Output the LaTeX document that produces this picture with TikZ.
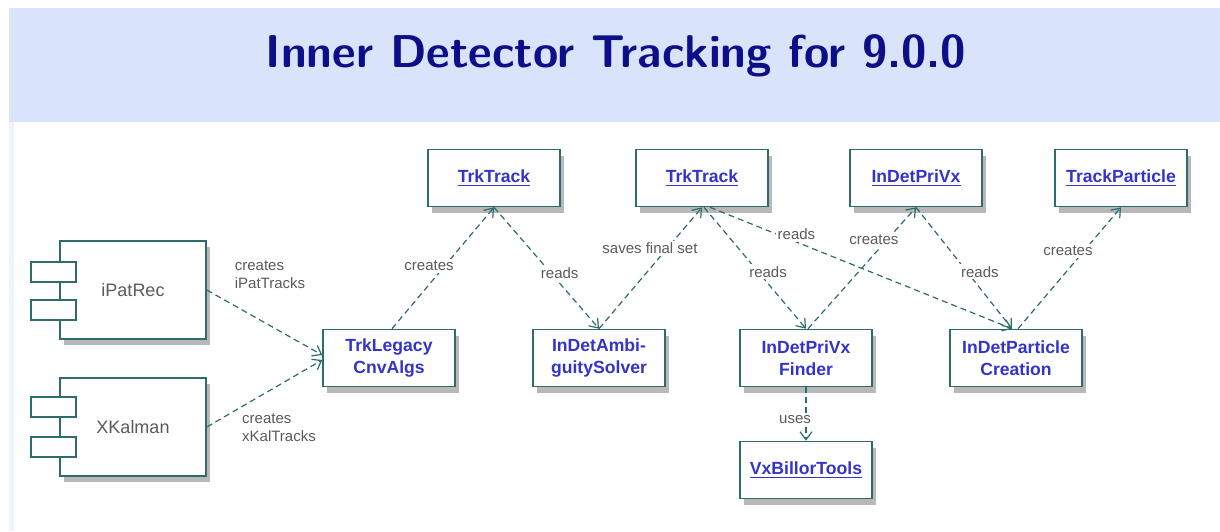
\documentclass[tikz,border=0pt]{standalone}
\usepackage{fontspec}
\setmainfont{Liberation Sans}
\usetikzlibrary{arrows.meta, shadows}

\definecolor{banner}{HTML}{D9E4FB}
\definecolor{sidestrip}{HTML}{EEF3FD}
\definecolor{titleblue}{HTML}{0E0E88}
\definecolor{linkblue}{HTML}{3434C8}
\definecolor{edge}{HTML}{2E6B6C}
\definecolor{note}{HTML}{5A5A5A}

\newcommand{\lnk}[1]{\underline{#1}}

\tikzset{
  boxshadow/.style={drop shadow={shadow xshift=2pt, shadow yshift=-3pt, fill=black!55, opacity=.5}},
  cls/.style={draw=edge, line width=0.8pt, fill=white, boxshadow,
    minimum width=66pt, minimum height=28.5pt, align=center, inner sep=2pt,
    font=\fontsize{8.8}{11}\selectfont\bfseries, text=linkblue},
  comp/.style={draw=edge, line width=0.8pt, fill=white, boxshadow,
    minimum width=73pt, minimum height=49pt,
    font=\fontsize{9}{11}\selectfont, text=note},
  tab/.style={draw=edge, line width=0.8pt, fill=white,
    minimum width=22.5pt, minimum height=10pt, inner sep=0pt},
  dep/.style={draw=edge, line width=0.6pt, dash pattern=on 3pt off 2pt,
    -{Straight Barb[length=4pt, width=6pt]}},
  lbl/.style={font=\fontsize{7.5}{9}\selectfont, text=note, inner sep=1pt, align=left},
}

\begin{document}
\begin{tikzpicture}[x=0.5pt, y=-0.5pt]
    \useasboundingbox (0, 0) rectangle (1220, 531);
    % slide background
    \fill[white] (0, 0) rectangle (1220, 531);
    \fill[sidestrip] (9, 122) rectangle (14, 531);
    \fill[banner] (9, 8) rectangle (1220, 122);
    \node[text=titleblue, font=\sffamily\bfseries\fontsize{23}{28}\selectfont] (title) at (616, 56) {Inner Detector Tracking for 9.0.0};

    % components on the left
    \node[comp] (ipat) at (133, 290) {iPatRec};
    \node[tab] (ipattop) at ([xshift=-2.75pt, yshift=9pt]ipat.west) {};
    \node[tab] (ipatbot) at ([xshift=-2.75pt, yshift=-10pt]ipat.west) {};
    \node[comp] (xkal) at (133, 427) {XKalman};
    \node[tab] (xkaltop) at ([xshift=-2.75pt, yshift=10pt]xkal.west) {};
    \node[tab] (xkalbot) at ([xshift=-2.75pt, yshift=-10pt]xkal.west) {};

    % algorithms and data classes
    \node[cls] (legacy) at (389, 358) {TrkLegacy\\CnvAlgs};
    \node[cls] (trk1) at (494, 178) {\lnk{TrkTrack}};
    \node[cls] (ambi) at (599, 358) {InDetAmbi-\\guitySolver};
    \node[cls] (trk2) at (702, 178) {\lnk{TrkTrack}};
    \node[cls] (finder) at (806, 358) {InDetPriVx\\Finder};
    \node[cls] (privx) at (916, 178) {\lnk{InDetPriVx}};
    \node[cls] (creation) at (1016, 358) {InDetParticle\\Creation};
    \node[cls] (tpart) at (1121, 178) {\lnk{TrackParticle}};
    \node[cls] (billor) at (806, 470) {\lnk{VxBillorTools}};

    % dependencies
    \draw[dep] (ipat.east) -- ([yshift=1.5pt]legacy.west);
    \draw[dep] (xkal.east) -- ([yshift=-1pt]legacy.west);
    \node[lbl] (ipatnote) at (270, 275) {creates\\iPatTracks};
    \node[lbl] (xkalnote) at (279, 428) {creates\\xKalTracks};

    \draw[dep] ([xshift=1.5pt]legacy.north) -- node[lbl, fill=white, pos=.52, xshift=-8pt] {creates} (trk1.south);
    \draw[dep] (trk1.south) -- node[lbl, fill=white, pos=.54, xshift=4.5pt] {reads} (ambi.north);
    \draw[dep] (ambi.north) -- node[lbl, fill=white, pos=.66, xshift=-8.5pt] {saves final set} (trk2.south);
    \draw[dep] ([xshift=1pt]trk2.south) -- node[lbl, fill=white, pos=.53, xshift=5pt] {reads} (finder.north);
    \draw[dep] ([xshift=4pt]trk2.south) -- node[lbl, fill=white, pos=.22, xshift=10pt] {reads} ([xshift=-2pt]creation.north);
    \draw[dep] ([xshift=1pt]finder.north) -- node[lbl, fill=white, pos=.73, xshift=-6.5pt] {creates} (privx.south);
    \draw[dep] (privx.south) -- node[lbl, fill=white, pos=.53, xshift=6.5pt] {reads} ([xshift=-2pt]creation.north);
    \draw[dep] ([xshift=1pt]creation.north) -- node[lbl, fill=white, pos=.64, xshift=-8pt] {creates} (tpart.south);
    \draw[dep] (finder.south) -- node[lbl, fill=white, pos=.6, xshift=-5.5pt] {uses} (billor.north);
  \end{tikzpicture}
\end{document}
